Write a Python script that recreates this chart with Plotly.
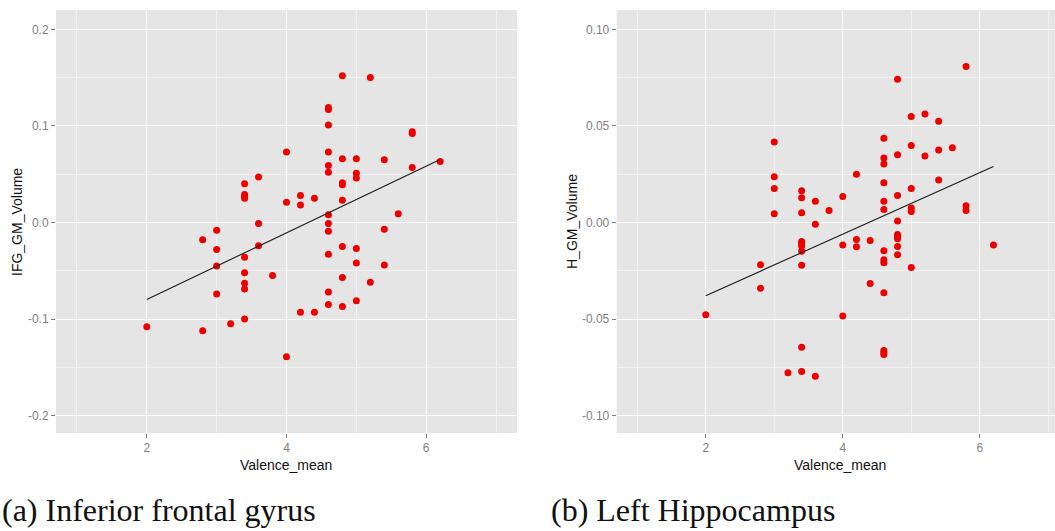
import numpy as np
import plotly.graph_objects as go

# ---- data ----
ifg_x = [4.8, 5.2, 4.6, 4.6, 4.6, 5.8, 5.8, 4.0, 4.6, 4.8, 5.0, 5.4, 6.2, 4.6, 4.6,
         5.0, 5.0, 5.8, 3.6, 3.4, 4.8, 4.8, 3.4, 3.4, 3.4, 4.2, 4.4, 4.0, 4.2, 4.8,
         5.6, 4.6, 4.6, 3.6, 5.4, 3.0, 4.6, 2.8, 3.6, 4.8, 5.0, 3.0, 3.4, 4.6, 5.0,
         3.0, 5.4, 3.4, 3.8, 4.8, 3.4, 3.4, 5.2, 4.6, 3.0, 5.0, 4.6, 4.8, 4.2, 4.4,
         3.4, 3.2, 2.0, 2.8, 4.0]
ifg_y = [0.152, 0.150, 0.119, 0.117, 0.101, 0.094, 0.092, 0.073, 0.073, 0.066, 0.066,
         0.065, 0.063, 0.059, 0.052, 0.051, 0.046, 0.057, 0.047, 0.040, 0.041, 0.039,
         0.029, 0.027, 0.025, 0.028, 0.025, 0.021, 0.018, 0.023, 0.009, 0.008, -0.001,
         -0.001, -0.007, -0.008, -0.009, -0.018, -0.024, -0.025, -0.027, -0.028, -0.036,
         -0.033, -0.042, -0.045, -0.044, -0.052, -0.055, -0.057, -0.063, -0.069, -0.062,
         -0.072, -0.074, -0.081, -0.085, -0.087, -0.093, -0.093, -0.100, -0.105, -0.108,
         -0.112, -0.139]

hip_x = [5.8, 4.8, 5.0, 5.2, 5.4, 4.6, 3.0, 5.0, 5.6, 5.4, 4.8, 5.2, 4.6, 4.6, 4.2,
         3.0, 4.6, 5.4, 3.0, 5.0, 3.4, 4.8, 4.0, 3.4, 3.6, 4.6, 3.8, 4.6, 5.0, 5.0,
         5.8, 5.8, 3.4, 3.0, 4.8, 3.6, 4.8, 4.8, 4.8, 4.2, 4.4, 3.4, 3.4, 3.4, 4.0,
         6.2, 4.2, 4.8, 3.4, 4.6, 4.8, 4.6, 4.6, 2.8, 3.4, 5.0, 4.4, 2.8, 4.6, 2.0,
         4.0, 3.4, 4.6, 4.6, 4.6, 3.2, 3.4, 3.6]
hip_y = [0.0807, 0.0741, 0.0548, 0.0562, 0.0524, 0.0436, 0.0417, 0.0399, 0.0387, 0.0375,
         0.0351, 0.0344, 0.0334, 0.0303, 0.0249, 0.0237, 0.0206, 0.0220, 0.0176, 0.0176,
         0.0164, 0.0140, 0.0135, 0.0128, 0.0110, 0.0110, 0.0062, 0.0067, 0.0075, 0.0057,
         0.0087, 0.0062, 0.0050, 0.0045, 0.0008, -0.0009, -0.0062, -0.0074, -0.0084,
         -0.0088, -0.0094, -0.0098, -0.0110, -0.0122, -0.0117, -0.0117, -0.0126, -0.0124,
         -0.0149, -0.0147, -0.0167, -0.0193, -0.0209, -0.0219, -0.0221, -0.0233, -0.0316,
         -0.0340, -0.0364, -0.0478, -0.0484, -0.0646, -0.0663, -0.0674, -0.0684, -0.0778,
         -0.0772, -0.0796]

x_tickvals = [2, 4, 6]
x_ticktext = ["2", "4", "6"]
ifg_tickvals = [-0.2, -0.1, 0.0, 0.1, 0.2]
ifg_ticktext = ["-0.2", "-0.1", "0.0", "0.1", "0.2"]
hip_tickvals = [-0.10, -0.05, 0.0, 0.05, 0.10]
hip_ticktext = ["-0.10", "-0.05", "0.00", "0.05", "0.10"]

x_title = "Valence_mean"
ifg_title = "IFG_GM_Volume"
hip_title = "H_GM_Volume"
caption_a = "(a) Inferior frontal gyrus"
caption_b = "(b) Left Hippocampus"


def lm_line(xs, ys):
    xs = np.asarray(xs, float)
    ys = np.asarray(ys, float)
    b, a = np.polyfit(xs, ys, 1)
    gx = np.linspace(xs.min(), xs.max(), 80)
    return gx, a + b * gx


W, H = 1055, 531
PANEL_BG = "#E5E5E5"
TICK_COL = "#7F7F7F"
RED = "#EE0000"

fig = go.Figure()

for xs, ys, xa, ya in [(ifg_x, ifg_y, "x", "y"), (hip_x, hip_y, "x2", "y2")]:
    fig.add_trace(go.Scatter(x=xs, y=ys, mode="markers", xaxis=xa, yaxis=ya,
                             marker=dict(color=RED, size=7, line=dict(width=0)),
                             showlegend=False, hoverinfo="x+y"))
    lx, ly = lm_line(xs, ys)
    fig.add_trace(go.Scatter(x=lx, y=ly, mode="lines", xaxis=xa, yaxis=ya,
                             line=dict(color="#1a1a1a", width=1.1),
                             showlegend=False, hoverinfo="skip"))

ydom = [1 - 433 / H, 1 - 10 / H]

common_axis = dict(
    showgrid=True, gridcolor="white", gridwidth=1.2,
    zeroline=False, showline=False,
    ticks="outside", ticklen=4, tickwidth=1, tickcolor=TICK_COL,
    tickfont=dict(family="Liberation Sans, Arial, sans-serif", size=12, color=TICK_COL),
    tickmode="array",
)

fig.update_layout(
    width=W, height=H,
    margin=dict(l=0, r=0, t=0, b=0),
    paper_bgcolor="white",
    plot_bgcolor=PANEL_BG,
    xaxis=dict(common_axis, domain=[56 / W, 517 / W], range=[0.7, 7.3],
               tickvals=x_tickvals, ticktext=x_ticktext, anchor="y",
               minor=dict(tickvals=[1, 3, 5, 7], showgrid=True, gridcolor="#F2F2F2",
                          gridwidth=0.6, ticks="")),
    yaxis=dict(common_axis, domain=ydom, range=[-0.218, 0.220],
               tickvals=ifg_tickvals, ticktext=ifg_ticktext, anchor="x",
               minor=dict(tickvals=[-0.15, -0.05, 0.05, 0.15], showgrid=True,
                          gridcolor="#F2F2F2", gridwidth=0.6, ticks="")),
    xaxis2=dict(common_axis, domain=[616.7 / W, 1.0], range=[0.7, 0.7 + (W - 616.7) / 68.5],
                tickvals=x_tickvals, ticktext=x_ticktext, anchor="y2",
                minor=dict(tickvals=[1, 3, 5, 7], showgrid=True, gridcolor="#F2F2F2",
                           gridwidth=0.6, ticks="")),
    yaxis2=dict(common_axis, domain=ydom, range=[-0.109, 0.110],
                tickvals=hip_tickvals, ticktext=hip_ticktext, anchor="x2",
                minor=dict(tickvals=[-0.075, -0.025, 0.025, 0.075], showgrid=True,
                           gridcolor="#F2F2F2", gridwidth=0.6, ticks="")),
)

title_font = dict(family="Liberation Sans, Arial, sans-serif", size=14, color="#111111")
cap_font = dict(family="Liberation Serif, Times New Roman, serif", size=32, color="#111111")

ann = [
    dict(text=x_title, x=286.5 / W, y=1 - 465 / H, font=title_font),
    dict(text=x_title, x=840 / W, y=1 - 465 / H, font=title_font),
    dict(text=ifg_title, x=17 / W, y=1 - 222 / H, font=title_font, textangle=-90),
    dict(text=hip_title, x=572 / W, y=1 - 222 / H, font=title_font, textangle=-90),
    dict(text=caption_a, x=0 / W, y=1 - 510 / H, font=cap_font, xanchor="left"),
    dict(text=caption_b, x=549 / W, y=1 - 510 / H, font=cap_font, xanchor="left"),
]
for a in ann:
    a.setdefault("xanchor", "center")
    a.update(xref="paper", yref="paper", yanchor="middle", showarrow=False)
fig.update_layout(annotations=ann)

fig.write_html("out.html")
